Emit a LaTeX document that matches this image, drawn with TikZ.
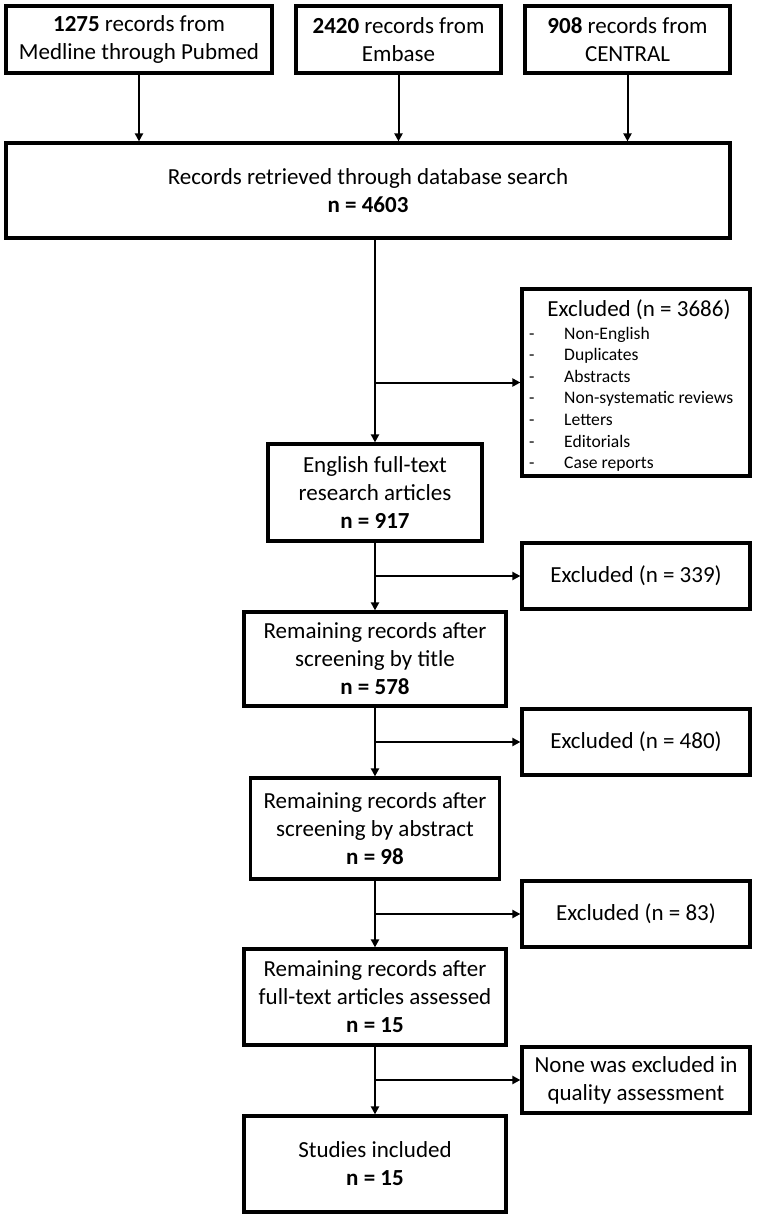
\documentclass[tikz,border=0pt]{standalone}
\usepackage{fontspec}
\setmainfont{Carlito}
\usetikzlibrary{arrows.meta}
\begin{document}
\begin{tikzpicture}[x=1pt,y=-1pt,
  box/.style={draw, line width=3.2pt, inner sep=0pt, align=center, font=\fontsize{23}{28}\selectfont},
  conn/.style={line width=2pt, -{Triangle[length=8pt,width=8pt]}},
  item/.style={inner sep=0pt, anchor=base west, font=\fontsize{17.6}{21.6}\selectfont}]
\useasboundingbox (0,0) rectangle (759,1218);
% top sources
\node[box, minimum width=266pt, minimum height=67pt] (a) at (139,39.5) {\textbf{1275} records from\\Medline through Pubmed};
\node[box, minimum width=205pt, minimum height=67pt] (b) at (398.5,39.5) {\textbf{2420} records from\\Embase};
\node[box, minimum width=205pt, minimum height=67pt] (c) at (627.5,39.5) {\textbf{908} records from\\CENTRAL};
\node[box, minimum width=724pt, minimum height=95pt] (d) at (368,190.5) {Records retrieved through database search\\\textbf{n = 4603}};
% main column
\node[box, minimum width=214pt, minimum height=97pt] (e) at (375,492.5) {English full-text\\research articles\\\textbf{n = 917}};
\node[box, minimum width=262pt, minimum height=94pt] (t) at (375,659) {Remaining records after\\screening by title\\\textbf{n = 578}};
\node[box, minimum width=249pt, minimum height=101pt] (ab) at (375,828.5) {Remaining records after\\screening by abstract\\\textbf{n = 98}};
\node[box, minimum width=262pt, minimum height=96pt] (f) at (375,997) {Remaining records after\\full-text articles assessed\\\textbf{n = 15}};
\node[box, minimum width=262pt, minimum height=96pt] (s) at (375,1164) {Studies included\\\textbf{n = 15}};
% excluded column
\node[box, minimum width=228pt, minimum height=187pt] (x1) at (636,382.5) {};
\node[inner sep=0pt, font=\fontsize{23}{28}\selectfont] (x1h) at (639,310) {Excluded (n = 3686)};
\foreach \i/\t [count=\k from 0] in {1/Non-English,2/Duplicates,3/Abstracts,4/Non-systematic reviews,5/Letters,6/Editorials,7/Case reports}{
  \node[item] (xd\i) at (529,339+\k*21.6) {-};
  \node[item] (xi\i) at (564,339+\k*21.6) {\t};
}
\node[box, minimum width=228pt, minimum height=66pt] (x2) at (636,576) {Excluded (n = 339)};
\node[box, minimum width=228pt, minimum height=66pt] (x3) at (636,742) {Excluded (n = 480)};
\node[box, minimum width=228pt, minimum height=66pt] (x4) at (636,914) {Excluded (n = 83)};
\node[box, minimum width=228pt, minimum height=66pt] (x5) at (636,1080) {None was excluded in\\quality assessment};
% connectors
\draw[conn] (a.south) -- (a.south |- d.north);
\draw[conn] (b.south) -- (b.south |- d.north);
\draw[conn] (c.south) -- (c.south |- d.north);
\draw[conn] (e.north |- d.south) -- (e.north);
\draw[conn] (e.north |- x1.west) -- (x1.west);
\draw[conn] (e.south) -- (t.north);
\draw[conn] (e.south |- x2.west) -- (x2.west);
\draw[conn] (t.south) -- (ab.north);
\draw[conn] (t.south |- x3.west) -- (x3.west);
\draw[conn] (ab.south) -- (f.north);
\draw[conn] (ab.south |- x4.west) -- (x4.west);
\draw[conn] (f.south) -- (s.north);
\draw[conn] (f.south |- x5.west) -- (x5.west);
\end{tikzpicture}
\end{document}
